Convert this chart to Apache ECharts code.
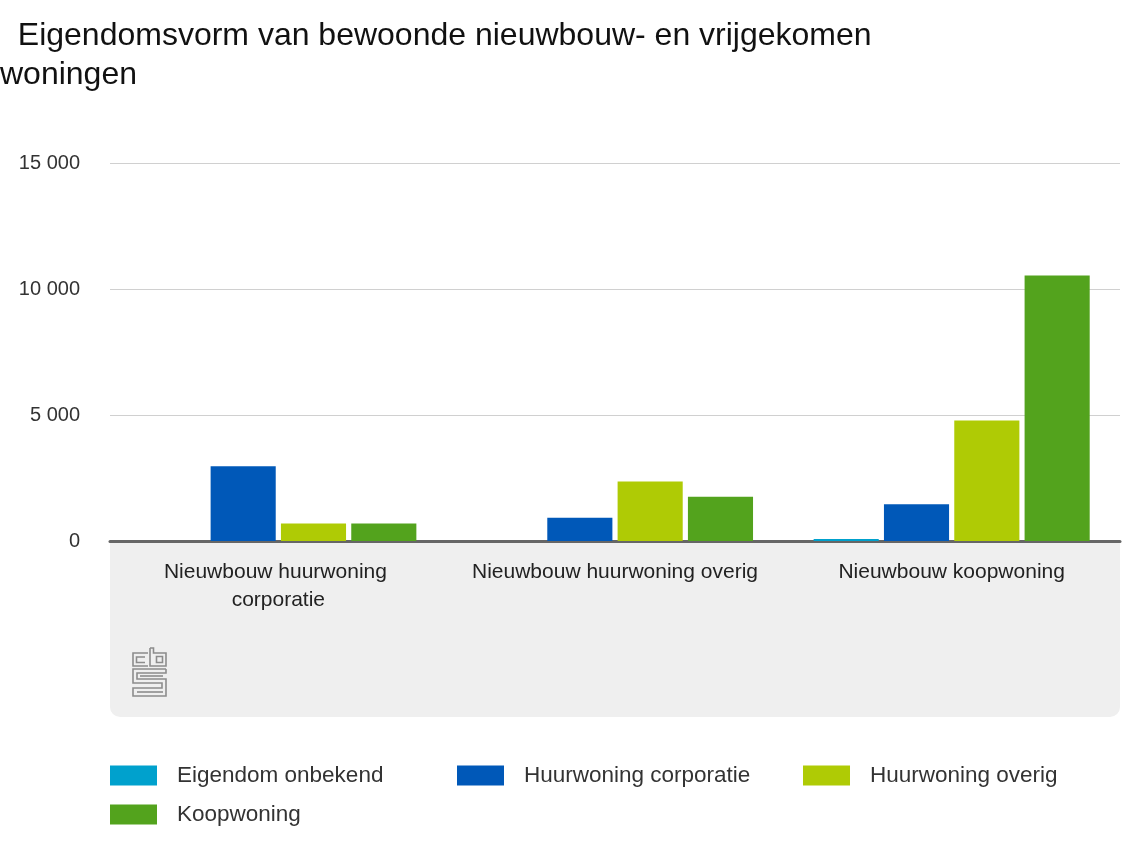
<!DOCTYPE html>
<html><head><meta charset="utf-8">
<script src="https://cdn.jsdelivr.net/npm/echarts@6/dist/echarts.min.js"></script>
<style>html,body{margin:0;padding:0;background:#fff}#c{width:1140px;height:857px}</style>
</head><body><div id="c"></div>
<script>
const categories = ['Nieuwbouw huurwoning corporatie', 'Nieuwbouw huurwoning overig', 'Nieuwbouw koopwoning'];
const seriesNames = ['Eigendom onbekend', 'Huurwoning corporatie', 'Huurwoning overig', 'Koopwoning'];
const eigendomOnbekend = [0, 0, 80];
const huurwoningCorporatie = [2970, 920, 1460];
const huurwoningOverig = [690, 2360, 4780];
const koopwoning = [690, 1755, 10540];
const yTicks = [0, 5000, 10000, 15000];

const colors = ['#00a1cd', '#0058b8', '#afcb05', '#53a31d'];
const values = [eigendomOnbekend, huurwoningCorporatie, huurwoningOverig, koopwoning];
const font = 'Liberation Sans, Arial, sans-serif';

const chart = echarts.init(document.getElementById('c'), null, {renderer: 'canvas'});
const legendPos = [[110, 764], [457, 764], [803, 764], [110, 803]];
const logoStroke = {stroke: '#8c8c8c', lineWidth: 1.6, fill: null};
chart.setOption({
  animation: false,
  title: {
    text: '  Eigendomsvorm van bewoonde nieuwbouw- en vrijgekomen\nwoningen',
    left: 0, top: 12, padding: [5, 0, 5, 0],
    textStyle: {fontFamily: font, fontSize: 32, fontWeight: 'normal', color: '#111', lineHeight: 39,
      rich: {}}
  },
  legend: seriesNames.map((n, i) => ({
    data: [n], left: legendPos[i][0], top: legendPos[i][1], padding: 0,
    itemWidth: 47, itemHeight: 20, itemGap: 0,
    icon: 'rect',
    textStyle: {fontFamily: font, fontSize: 22.5, color: '#333', padding: [0, 0, 0, 15]},
    selectedMode: false
  })),
  grid: {left: 110, right: 20, top: 163, bottom: 316, containLabel: false},
  graphic: [
    {type: 'rect', z: -1, shape: {x: 110, y: 541, width: 1010, height: 176, r: [0, 0, 10, 10]}, style: {fill: '#efefef'}},
    {type: 'group', x: 133, y: 648, children: [
      {type: 'polyline', shape: {points: [[15,5],[0,5],[0,18],[15,18]]}, style: logoStroke},
      {type: 'polyline', shape: {points: [[12,9],[3.5,9],[3.5,14.5],[12,14.5]]}, style: logoStroke},
      {type: 'polyline', shape: {points: [[17,0],[20.5,0],[20.5,5],[33,5],[33,18],[17,18],[17,0]]}, style: logoStroke},
      {type: 'rect', shape: {x: 23.5, y: 8.5, width: 6, height: 6}, style: logoStroke},
      {type: 'polyline', shape: {points: [[33,21],[0,21],[0,35],[29,35],[29,40],[0,40],[0,48],[33,48],[33,31],[4,31],[4,25],[33,25],[33,21]]}, style: logoStroke},
      {type: 'polyline', shape: {points: [[30,28],[7,28]]}, style: logoStroke},
      {type: 'polyline', shape: {points: [[4,44],[30,44]]}, style: logoStroke}
    ]}
  ],
  xAxis: {
    type: 'category', data: categories,
    axisLine: {lineStyle: {color: '#666', width: 3}},
    axisTick: {show: false},
    axisLabel: {fontFamily: font, fontSize: 21, color: '#222', margin: 17, lineHeight: 28, width: 300, overflow: 'break', interval: 0}
  },
  yAxis: {
    type: 'value', min: 0, max: 15000, interval: 5000,
    axisLine: {show: false}, axisTick: {show: false},
    splitLine: {lineStyle: {color: '#d0d0d0', width: 1}},
    axisLabel: {fontFamily: font, fontSize: 20, color: '#333', margin: 30,
      formatter: v => yTicks.includes(v) ? String(v).replace(/\B(?=(\d{3})+(?!\d))/g, ' ') : ''}
  },
  series: seriesNames.map((n, i) => ({
    name: n, type: 'bar', data: values[i],
    itemStyle: {color: colors[i]},
    barGap: '8%', barCategoryGap: '18%'
  }))
});
</script></body></html>
